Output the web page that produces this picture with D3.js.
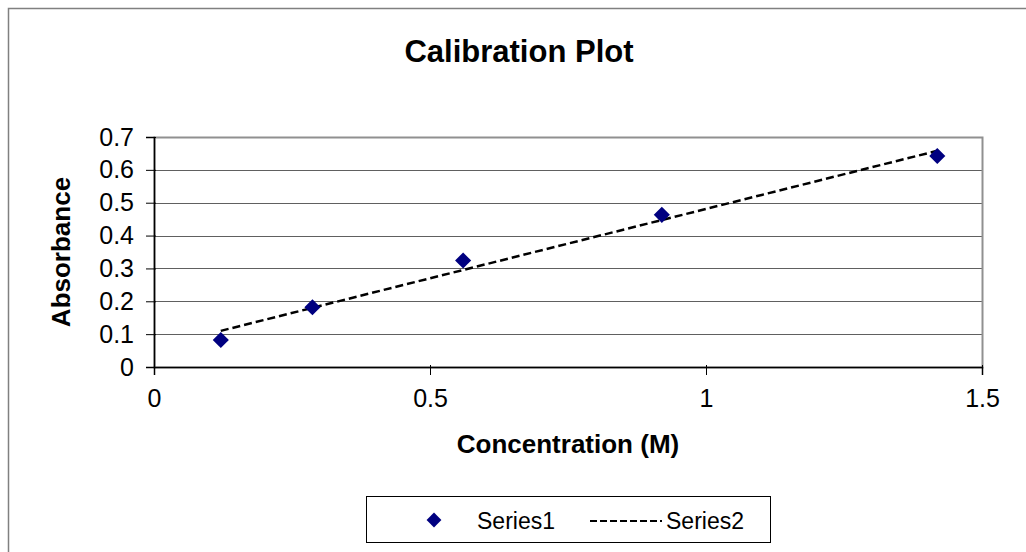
<!DOCTYPE html>
<html>
<head>
<meta charset="utf-8">
<script src="https://cdn.jsdelivr.net/npm/d3@7"></script>
<style>
  body { margin: 0; background: #fff; }
  text { font-family: "Liberation Sans", Arial, sans-serif; }
</style>
</head>
<body>
<div id="chart"></div>
<script>
// Series1: measured points
const concentration = [0.121, 0.287, 0.560, 0.920, 1.419];
const absorbance = [0.082, 0.182, 0.324, 0.463, 0.642];
// Series2: trend line endpoints
const trendX = [0.121, 1.419];
const trendY = [0.110, 0.658];

const xTicks = [0, 0.5, 1, 1.5];
const yTicks = [0, 0.1, 0.2, 0.3, 0.4, 0.5, 0.6, 0.7];
const seriesNames = ["Series1", "Series2"];

const width = 1026, height = 552;
const plot = { left: 154, top: 137, right: 982, bottom: 367 };

const svg = d3.select("#chart").append("svg")
    .attr("width", width)
    .attr("height", height);

// outer chart border (runs off right/bottom)
svg.append("rect")
    .attr("x", 8.5).attr("y", 8.5)
    .attr("width", width + 20).attr("height", height + 20)
    .attr("fill", "#fff")
    .attr("stroke", "#808080")
    .attr("stroke-width", 1.5);

const x = d3.scaleLinear().domain([0, 1.5]).range([plot.left, plot.right]);
const y = d3.scaleLinear().domain([0, 0.7]).range([plot.bottom, plot.top]);

// gridlines
svg.append("g")
    .selectAll("line")
    .data(yTicks.slice(1))
    .join("line")
    .attr("x1", plot.left).attr("x2", plot.right)
    .attr("y1", d => Math.round(y(d)) + 0.5).attr("y2", d => Math.round(y(d)) + 0.5)
    .attr("stroke", "#606060")
    .attr("stroke-width", 1.2);

// plot border
svg.append("rect")
    .attr("x", plot.left + 0.5).attr("y", plot.top + 0.5)
    .attr("width", plot.right - plot.left).attr("height", plot.bottom - plot.top)
    .attr("fill", "none")
    .attr("stroke", "#909090")
    .attr("stroke-width", 2);

// axes
const yAxis = svg.append("g")
    .attr("transform", `translate(${plot.left},0)`)
    .call(d3.axisLeft(y).tickValues(yTicks).tickSize(8).tickPadding(12)
        .tickFormat(d => d === 0 ? "0" : d3.format(".1f")(d)));

const xAxis = svg.append("g")
    .attr("transform", `translate(0,${plot.bottom})`)
    .call(d3.axisBottom(x).tickValues(xTicks).tickSize(8).tickPadding(14)
        .tickFormat(d => String(d)));

[yAxis, xAxis].forEach(a => {
    a.select(".domain").attr("stroke", "#000").attr("stroke-width", 1.5);
    a.selectAll(".tick line").attr("stroke", "#000");
    a.selectAll(".tick text")
        .attr("fill", "#000")
        .style("font-size", "25px")
        .style("font-family", "'Liberation Sans', Arial, sans-serif");
});
// ticks straddle the axis slightly
yAxis.selectAll(".tick line").attr("x1", 2);
xAxis.selectAll(".tick line").attr("y1", -2);

// trend line (Series2)
const trend = trendX.map((d, i) => [d, trendY[i]]);
svg.append("path")
    .datum(trend)
    .attr("d", d3.line().x(d => x(d[0])).y(d => y(d[1])))
    .attr("fill", "none")
    .attr("stroke", "#000")
    .attr("stroke-width", 2.5)
    .attr("stroke-dasharray", "8,4");

// data points (Series1)
svg.append("g")
    .selectAll("path")
    .data(concentration.map((d, i) => [d, absorbance[i]]))
    .join("path")
    .attr("transform", d => `translate(${x(d[0])},${y(d[1])}) rotate(45)`)
    .attr("d", d3.symbol().type(d3.symbolSquare).size(130))
    .attr("fill", "#000080");

// titles
svg.append("text")
    .attr("x", 519).attr("y", 62)
    .attr("text-anchor", "middle")
    .style("font-size", "31px").style("font-weight", "bold")
    .text("Calibration Plot");

svg.append("text")
    .attr("x", (plot.left + plot.right) / 2).attr("y", 453)
    .attr("text-anchor", "middle")
    .style("font-size", "26px").style("font-weight", "bold")
    .text("Concentration (M)");

svg.append("text")
    .attr("transform", `translate(70,${(plot.top + plot.bottom) / 2}) rotate(-90)`)
    .attr("text-anchor", "middle")
    .style("font-size", "26px").style("font-weight", "bold")
    .text("Absorbance");

// legend
const legend = svg.append("g");
legend.append("rect")
    .attr("x", 366.5).attr("y", 496.5)
    .attr("width", 404).attr("height", 46)
    .attr("fill", "#fff")
    .attr("stroke", "#000")
    .attr("stroke-width", 1);

legend.append("path")
    .attr("transform", "translate(434,520) rotate(45)")
    .attr("d", d3.symbol().type(d3.symbolSquare).size(110))
    .attr("fill", "#000080");
legend.append("text")
    .attr("x", 477).attr("y", 529)
    .style("font-size", "23px")
    .text(seriesNames[0]);

legend.append("line")
    .attr("x1", 590).attr("x2", 662)
    .attr("y1", 521).attr("y2", 521)
    .attr("stroke", "#000")
    .attr("stroke-width", 2)
    .attr("stroke-dasharray", "7,3");
legend.append("text")
    .attr("x", 666).attr("y", 529)
    .style("font-size", "23px")
    .text(seriesNames[1]);
</script>
</body>
</html>
